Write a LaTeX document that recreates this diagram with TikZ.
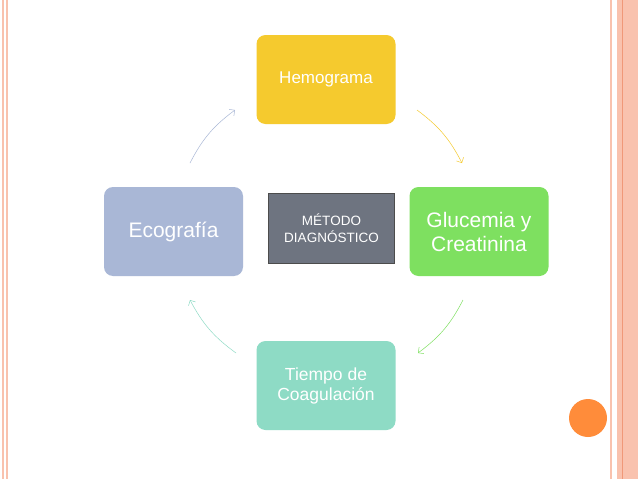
\documentclass[tikz,border=0pt]{standalone}
\usepackage{fontspec}
\setmainfont{Liberation Sans}
\usetikzlibrary{arrows.meta}
\definecolor{cy}{HTML}{F5CA2E}
\definecolor{cg}{HTML}{7EE060}
\definecolor{ct}{HTML}{8EDBC5}
\definecolor{cb}{HTML}{A9B7D6}
\definecolor{cc}{HTML}{6E7480}
\definecolor{pk}{HTML}{F9C2AE}
\definecolor{pkd}{HTML}{F09878}
\definecolor{co}{HTML}{FF8C3A}
\tikzset{box/.style={rounded corners=9pt,minimum width=139pt,minimum height=89pt,text=white,align=center,inner sep=2pt},
arr/.style={-{Straight Barb[length=4pt]},line width=0.5pt}}
\begin{document}
\begin{tikzpicture}[x=1pt,y=-1pt]
\useasboundingbox (0,0) rectangle (638,479);
\fill[white] (0,0) rectangle (638,479);
\fill[pk] (2,0) rectangle (3.5,479);
\fill[pk] (6,0) rectangle (7.5,479);
\fill[pk] (609.5,0) rectangle (612,479);
\fill[pk] (617,0) rectangle (638,479);
\fill[pkd] (621.5,0) rectangle (622.5,479);
\node[box,fill=cy,font=\fontsize{17}{20}\selectfont] (h) at (326,79.5) {Hemograma};
\node[box,fill=cg,font=\fontsize{21}{24}\selectfont] (g) at (479,231.5) {Glucemia y\\Creatinina};
\node[box,fill=ct,font=\fontsize{17.5}{20}\selectfont] (t) at (326,385.5) {Tiempo de\\Coagulación};
\node[box,fill=cb,font=\fontsize{21}{24}\selectfont] (e) at (173.5,231.5) {Ecografía};
\node[draw=black!70,line width=1pt,fill=cc,text=white,minimum width=126pt,minimum height=70pt,align=center,font=\fontsize{13.5}{17}\selectfont] (m) at (331.5,228.5) {MÉTODO\\DIAGNÓSTICO};
\fill[co] (588,418) circle (19);
\coordinate (a1) at (417,110); \coordinate (a2) at (462,163);
\coordinate (b1) at (463,300); \coordinate (b2) at (418,353);
\coordinate (c1) at (236,353); \coordinate (c2) at (190,300);
\coordinate (d1) at (190,163); \coordinate (d2) at (235,110);
\draw[arr,draw=cy] (a1) to[bend left=13] (a2);
\draw[arr,draw=cg] (b1) to[bend left=13] (b2);
\draw[arr,draw=ct] (c1) to[bend left=13] (c2);
\draw[arr,draw=cb] (d1) to[bend left=13] (d2);
\end{tikzpicture}
\end{document}
